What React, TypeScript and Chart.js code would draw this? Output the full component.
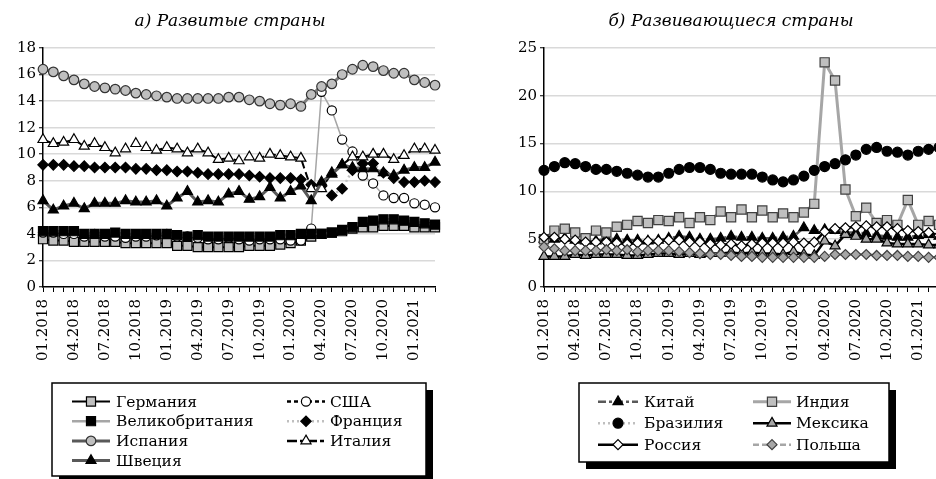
import React, { useEffect, useRef } from 'react';
import { Chart, registerables } from 'chart.js';

Chart.register(...registerables);

// ---------- data ----------
const months = [
  '01.2018', '02.2018', '03.2018', '04.2018', '05.2018', '06.2018', '07.2018', '08.2018', '09.2018', '10.2018', '11.2018', '12.2018',
  '01.2019', '02.2019', '03.2019', '04.2019', '05.2019', '06.2019', '07.2019', '08.2019', '09.2019', '10.2019', '11.2019', '12.2019',
  '01.2020', '02.2020', '03.2020', '04.2020', '05.2020', '06.2020', '07.2020', '08.2020', '09.2020', '10.2020', '11.2020', '12.2020',
  '01.2021', '02.2021', '03.2021',
];
const labelStep = 3;

const titleDeveloped = 'а) Развитые страны';
const titleDeveloping = 'б) Развивающиеся страны';

const yTicksDeveloped = { min: 0, max: 18, step: 2 };
const yTicksDeveloping = { min: 0, max: 25, step: 5 };

// Developed
const germany = [3.6, 3.5, 3.5, 3.4, 3.4, 3.4, 3.4, 3.4, 3.3, 3.3, 3.3, 3.3, 3.3, 3.1, 3.1, 3.0, 3.0, 3.0, 3.0, 3.0, 3.1, 3.1, 3.1, 3.2, 3.3, 3.5, 3.8, 4.0, 4.1, 4.2, 4.4, 4.5, 4.5, 4.6, 4.6, 4.6, 4.5, 4.5, 4.5];
const usa = [4.1, 4.1, 4.0, 4.0, 3.8, 4.0, 3.8, 3.8, 3.7, 3.8, 3.8, 3.9, 4.0, 3.8, 3.8, 3.7, 3.6, 3.6, 3.7, 3.6, 3.5, 3.6, 3.6, 3.6, 3.5, 3.5, 4.4, 14.7, 13.3, 11.1, 10.2, 8.4, 7.8, 6.9, 6.7, 6.7, 6.3, 6.2, 6.0];
const uk = [4.2, 4.2, 4.2, 4.2, 4.0, 4.0, 4.0, 4.1, 4.0, 4.0, 4.0, 4.0, 4.0, 3.9, 3.8, 3.9, 3.8, 3.8, 3.8, 3.8, 3.8, 3.8, 3.8, 3.9, 3.9, 4.0, 4.0, 4.0, 4.1, 4.3, 4.5, 4.9, 5.0, 5.1, 5.1, 5.0, 4.9, 4.8, 4.7];
const france = [9.2, 9.2, 9.2, 9.1, 9.1, 9.0, 9.0, 9.0, 9.0, 8.9, 8.9, 8.8, 8.8, 8.7, 8.7, 8.6, 8.5, 8.5, 8.5, 8.5, 8.4, 8.3, 8.2, 8.2, 8.2, 8.1, 7.7, 7.6, 6.9, 7.4, 8.8, 9.3, 9.3, 8.6, 8.2, 7.9, 7.9, 8.0, 7.9];
const spain = [16.4, 16.2, 15.9, 15.6, 15.3, 15.1, 15.0, 14.9, 14.8, 14.6, 14.5, 14.4, 14.3, 14.2, 14.2, 14.2, 14.2, 14.2, 14.3, 14.3, 14.1, 14.0, 13.8, 13.7, 13.8, 13.6, 14.5, 15.1, 15.3, 16.0, 16.4, 16.7, 16.6, 16.3, 16.1, 16.1, 15.6, 15.4, 15.2];
const italy = [11.1, 10.8, 10.9, 11.1, 10.6, 10.8, 10.5, 10.1, 10.4, 10.8, 10.5, 10.3, 10.5, 10.4, 10.1, 10.4, 10.1, 9.6, 9.7, 9.5, 9.8, 9.7, 10.0, 9.9, 9.8, 9.7, 7.4, 7.4, 8.6, 9.2, 9.8, 9.8, 10.0, 10.0, 9.6, 9.9, 10.4, 10.4, 10.3];
const sweden = [6.5, 5.8, 6.1, 6.3, 5.9, 6.3, 6.3, 6.3, 6.5, 6.4, 6.4, 6.5, 6.1, 6.7, 7.2, 6.4, 6.5, 6.4, 7.0, 7.2, 6.6, 6.8, 7.5, 6.7, 7.2, 7.6, 6.5, 7.9, 8.5, 9.2, 9.0, 8.9, 8.9, 8.6, 8.4, 8.8, 9.0, 9.0, 9.4];

// Developing
const china = [5.0, 5.0, 5.1, 4.9, 4.8, 4.8, 5.1, 5.0, 4.9, 4.9, 4.8, 4.9, 5.1, 5.3, 5.2, 5.0, 5.0, 5.1, 5.3, 5.2, 5.2, 5.1, 5.1, 5.2, 5.3, 6.2, 5.9, 6.0, 5.9, 5.7, 5.7, 5.6, 5.4, 5.3, 5.2, 5.2, 5.4, 5.5, 5.3];
const india = [5.0, 5.9, 6.1, 5.7, 5.1, 5.9, 5.7, 6.3, 6.5, 6.9, 6.7, 7.0, 6.9, 7.3, 6.7, 7.3, 7.0, 7.9, 7.3, 8.1, 7.3, 8.0, 7.3, 7.7, 7.3, 7.8, 8.7, 23.5, 21.6, 10.2, 7.4, 8.3, 6.7, 7.0, 6.5, 9.1, 6.5, 6.9, 6.5];
const brazil = [12.2, 12.6, 13.0, 12.9, 12.6, 12.3, 12.3, 12.1, 11.9, 11.7, 11.5, 11.5, 11.9, 12.3, 12.5, 12.5, 12.3, 11.9, 11.8, 11.8, 11.8, 11.5, 11.2, 11.0, 11.2, 11.6, 12.2, 12.6, 12.9, 13.3, 13.8, 14.4, 14.6, 14.2, 14.1, 13.8, 14.2, 14.4, 14.6];
const mexico = [3.2, 3.2, 3.2, 3.4, 3.3, 3.4, 3.4, 3.4, 3.3, 3.3, 3.4, 3.5, 3.5, 3.4, 3.5, 3.4, 3.5, 3.5, 3.6, 3.5, 3.6, 3.5, 3.5, 3.4, 3.7, 3.4, 3.3, 4.8, 4.3, 5.5, 5.3, 5.0, 5.0, 4.6, 4.5, 4.5, 4.5, 4.4, 4.4];
const russia = [5.2, 5.2, 5.0, 4.9, 4.7, 4.7, 4.7, 4.6, 4.5, 4.6, 4.8, 4.8, 4.9, 4.9, 4.7, 4.7, 4.5, 4.4, 4.5, 4.3, 4.5, 4.6, 4.6, 4.6, 4.7, 4.6, 4.7, 5.8, 6.1, 6.2, 6.3, 6.4, 6.3, 6.3, 6.1, 5.9, 5.8, 5.7, 5.4];
const poland = [4.2, 4.0, 3.8, 3.8, 3.8, 3.8, 3.9, 3.8, 3.9, 3.7, 3.8, 3.8, 3.8, 3.7, 3.6, 3.5, 3.4, 3.4, 3.3, 3.2, 3.2, 3.1, 3.1, 3.1, 3.1, 3.1, 3.1, 3.2, 3.4, 3.4, 3.4, 3.4, 3.3, 3.3, 3.3, 3.2, 3.2, 3.1, 3.1];

// ---------- drawing helpers ----------
const FONT = 'DejaVu Serif';

function drawMarker(ctx: CanvasRenderingContext2D, style: string, x: number, y: number, r: number, fill: string, stroke: string, lw: number) {
  ctx.save();
  ctx.beginPath();
  if (style === 'circle') {
    ctx.arc(x, y, r, 0, Math.PI * 2);
  } else if (style === 'rect') {
    const s = r * Math.SQRT1_2;
    ctx.rect(x - s, y - s, 2 * s, 2 * s);
  } else if (style === 'rectRot') {
    ctx.moveTo(x - r, y);
    ctx.lineTo(x, y - r);
    ctx.lineTo(x + r, y);
    ctx.lineTo(x, y + r);
    ctx.closePath();
  } else if (style === 'triangle') {
    let a = 0;
    ctx.moveTo(x + Math.sin(a) * r, y - Math.cos(a) * r);
    a += (2 * Math.PI) / 3;
    ctx.lineTo(x + Math.sin(a) * r, y - Math.cos(a) * r);
    a += (2 * Math.PI) / 3;
    ctx.lineTo(x + Math.sin(a) * r, y - Math.cos(a) * r);
    ctx.closePath();
  }
  ctx.fillStyle = fill;
  ctx.fill();
  ctx.lineWidth = lw;
  ctx.strokeStyle = stroke;
  ctx.stroke();
  ctx.restore();
}

const decorPlugin = {
  id: 'panelDecor',
  afterDraw(chart: any, _args: any, opts: any) {
    const ctx: CanvasRenderingContext2D = chart.ctx;
    // title
    ctx.save();
    ctx.fillStyle = '#000';
    ctx.font = `italic 17px "${FONT}"`;
    ctx.textAlign = 'center';
    ctx.textBaseline = 'middle';
    ctx.fillText(opts.title, opts.titleX, opts.titleY);
    ctx.restore();

    // legend box with shadow
    const b = opts.box;
    ctx.save();
    ctx.fillStyle = '#000';
    ctx.fillRect(b.x + 7, b.y + 7, b.w, b.h);
    ctx.fillStyle = '#fff';
    ctx.fillRect(b.x, b.y, b.w, b.h);
    ctx.lineWidth = 1.5;
    ctx.strokeStyle = '#000';
    ctx.strokeRect(b.x, b.y, b.w, b.h);
    ctx.restore();

    const dsList = chart.data.datasets;
    dsList.forEach((ds: any, i: number) => {
      const col = i % 2;
      const row = Math.floor(i / 2);
      const y = opts.rowY0 + row * opts.rowGap;
      const [x1, x2, tx] = opts.cols[col];
      const ln = ds.legendLine || { color: ds.borderColor, dash: ds.borderDash || [], width: ds.borderWidth };
      ctx.save();
      ctx.beginPath();
      ctx.setLineDash(ln.dash || []);
      ctx.lineWidth = ln.width;
      ctx.strokeStyle = ln.color;
      ctx.moveTo(x1, y);
      ctx.lineTo(x2, y);
      ctx.stroke();
      ctx.restore();
      drawMarker(ctx, ds.pointStyle, (x1 + x2) / 2, y, ds.pointRadius, ds.pointBackgroundColor, ds.pointBorderColor, ds.pointBorderWidth);
      ctx.save();
      ctx.fillStyle = '#000';
      ctx.font = `15.5px "${FONT}"`;
      ctx.textAlign = 'left';
      ctx.textBaseline = 'middle';
      ctx.fillText(ds.label, tx, y + 1);
      ctx.restore();
    });
  },
};

function series(label: string, data: number[], o: any, n: number, i: number) {
  return {
    label,
    data,
    borderColor: o.line,
    borderWidth: o.width,
    borderDash: o.dash || [],
    pointStyle: o.style,
    pointRadius: o.r,
    pointHoverRadius: o.r,
    pointBackgroundColor: o.fill,
    pointBorderColor: o.stroke || '#000',
    pointBorderWidth: 1.2,
    tension: 0,
    fill: false,
    order: n - i,
    legendLine: o.legend,
  };
}

function makeConfig(datasets: any[], yt: any, yWidth: number, padRight: number, decor: any) {
  const tickFont = { family: FONT, size: 15 };
  return {
    type: 'line',
    data: { labels: months, datasets },
    plugins: [decorPlugin],
    options: {
      animation: false,
      responsive: false,
      devicePixelRatio: 1,
      events: [],
      layout: { padding: { left: 0, right: padRight, top: 48, bottom: 112 } },
      plugins: {
        legend: { display: false },
        title: { display: false },
        tooltip: { enabled: false },
        panelDecor: decor,
      },
      scales: {
        x: {
          type: 'category',
          offset: false,
          grid: { display: true, drawOnChartArea: false, drawTicks: true, tickLength: 5, tickColor: '#000', tickWidth: 1 },
          border: { display: true, color: '#000', width: 1.5 },
          ticks: {
            autoSkip: false,
            minRotation: 90,
            maxRotation: 90,
            padding: 7,
            color: '#000',
            font: tickFont,
            callback: (_v: any, i: number) => (i % labelStep === 0 ? months[i] : ''),
          },
          afterFit: (s: any) => { s.height = 80; },
        },
        y: {
          min: yt.min,
          max: yt.max,
          grid: {
            color: (c: any) => (c.tick && c.tick.value === yt.min ? 'rgba(0,0,0,0)' : '#d9d9d9'),
            lineWidth: 1.5,
            tickColor: '#000',
            tickLength: 4,
            tickWidth: 1,
          },
          border: { display: true, color: '#000', width: 1.5 },
          ticks: { stepSize: yt.step, padding: 3, color: '#000', font: tickFont },
          afterFit: (s: any) => { s.width = yWidth; },
        },
      },
    },
  };
}

function developedConfig() {
  const n = 7;
  const ds = [
    series('Германия', germany, { line: '#000', width: 2, style: 'rect', r: 6.4, fill: '#bfbfbf', stroke: '#000' }, n, 0),
    series('США', usa, { line: '#a6a6a6', width: 1.5, style: 'circle', r: 4.6, fill: '#fff', stroke: '#000', legend: { color: '#000', dash: [4, 3], width: 2.5 } }, n, 1),
    series('Великобритания', uk, { line: '#a6a6a6', width: 2.5, style: 'rect', r: 6.4, fill: '#000', stroke: '#000' }, n, 2),
    series('Франция', france, { line: '#bfbfbf', width: 2.5, dash: [2, 3], style: 'rectRot', r: 5.2, fill: '#000', stroke: '#000' }, n, 3),
    series('Испания', spain, { line: '#7f7f7f', width: 3, style: 'circle', r: 4.8, fill: '#bfbfbf', stroke: '#333', legend: { color: '#595959', dash: [], width: 3 } }, n, 4),
    series('Италия', italy, { line: '#000', width: 2, dash: [8, 4], style: 'triangle', r: 5.8, fill: '#fff', stroke: '#000', legend: { color: '#000', dash: [10, 3, 4, 3], width: 2.5 } }, n, 5),
    series('Швеция', sweden, { line: '#595959', width: 3, style: 'triangle', r: 5.8, fill: '#000', stroke: '#000' }, n, 6),
  ];
  return makeConfig(ds, yTicksDeveloped, 43, 33, {
    title: titleDeveloped,
    titleX: 230,
    titleY: 22,
    box: { x: 52, y: 383, w: 374, h: 93 },
    rowY0: 401.5,
    rowGap: 19.7,
    cols: [[72, 110, 116], [287, 325, 330]],
  });
}

function developingConfig() {
  const n = 6;
  const ds = [
    series('Китай', china, { line: '#595959', width: 2.5, dash: [8, 3, 3, 3], style: 'triangle', r: 5.8, fill: '#000', stroke: '#000' }, n, 0),
    series('Индия', india, { line: '#a6a6a6', width: 3, style: 'rect', r: 6.5, fill: '#bfbfbf', stroke: '#404040' }, n, 1),
    series('Бразилия', brazil, { line: '#bfbfbf', width: 2.5, dash: [2, 3], style: 'circle', r: 5, fill: '#000', stroke: '#000' }, n, 2),
    series('Мексика', mexico, { line: '#000', width: 2.5, style: 'triangle', r: 5.8, fill: '#a6a6a6', stroke: '#000' }, n, 3),
    series('Россия', russia, { line: '#000', width: 2.5, style: 'rectRot', r: 5, fill: '#fff', stroke: '#000' }, n, 4),
    series('Польша', poland, { line: '#a6a6a6', width: 2.5, dash: [6, 3], style: 'rectRot', r: 5, fill: '#a6a6a6', stroke: '#404040' }, n, 5),
  ];
  return makeConfig(ds, yTicksDeveloping, 76, 30, {
    title: titleDeveloping,
    titleX: 263,
    titleY: 22,
    box: { x: 111, y: 383, w: 310, h: 79 },
    rowY0: 401.7,
    rowGap: 21.5,
    cols: [[130, 170, 176], [285, 323, 328]],
  });
}

export default function App() {
  const leftRef = useRef<HTMLCanvasElement>(null);
  const rightRef = useRef<HTMLCanvasElement>(null);
  useEffect(() => {
    const c1 = new Chart(leftRef.current as HTMLCanvasElement, developedConfig() as any);
    const c2 = new Chart(rightRef.current as HTMLCanvasElement, developingConfig() as any);
    return () => {
      c1.destroy();
      c2.destroy();
    };
  }, []);
  return (
    <div style={{ position: 'fixed', left: 0, top: 0, width: 936, height: 479, overflow: 'hidden', background: '#fff' }}>
      <canvas ref={leftRef} width={468} height={479} style={{ position: 'absolute', left: 0, top: 0, width: 468, height: 479 }} />
      <canvas ref={rightRef} width={501} height={479} style={{ position: 'absolute', left: 468, top: 0, width: 501, height: 479 }} />
    </div>
  );
}
